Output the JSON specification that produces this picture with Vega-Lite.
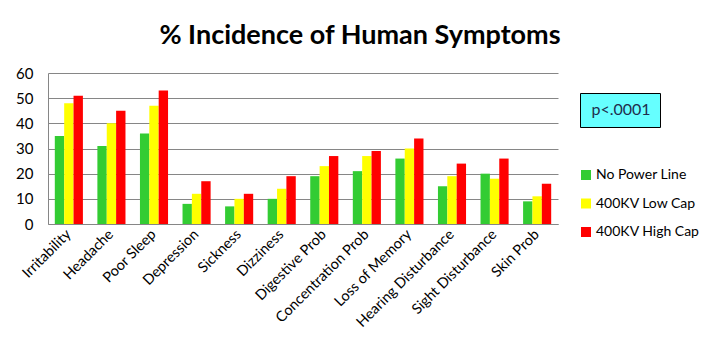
{
  "$schema": "https://vega.github.io/schema/vega-lite/v6.json",
  "width": 510,
  "height": 151,
  "autosize": {"type": "none"},
  "padding": {"left": 48, "top": 73, "right": 166, "bottom": 135},
  "background": "white",
  "title": {
    "text": "% Incidence of Human Symptoms",
    "font": "Lato",
    "fontSize": 27,
    "fontWeight": "bold",
    "color": "black",
    "anchor": "middle",
    "dx": 57,
    "offset": 16
  },
  "config": {
    "view": {"stroke": null},
    "font": "Lato"
  },
  "layer": [
    {
      "data": {
        "values": [
          {"symptom": "Irritability", "group": "No Power Line", "value": 35},
          {"symptom": "Irritability", "group": "400KV Low Cap", "value": 48},
          {"symptom": "Irritability", "group": "400KV High Cap", "value": 51},
          {"symptom": "Headache", "group": "No Power Line", "value": 31},
          {"symptom": "Headache", "group": "400KV Low Cap", "value": 40},
          {"symptom": "Headache", "group": "400KV High Cap", "value": 45},
          {"symptom": "Poor Sleep", "group": "No Power Line", "value": 36},
          {"symptom": "Poor Sleep", "group": "400KV Low Cap", "value": 47},
          {"symptom": "Poor Sleep", "group": "400KV High Cap", "value": 53},
          {"symptom": "Depression", "group": "No Power Line", "value": 8},
          {"symptom": "Depression", "group": "400KV Low Cap", "value": 12},
          {"symptom": "Depression", "group": "400KV High Cap", "value": 17},
          {"symptom": "Sickness", "group": "No Power Line", "value": 7},
          {"symptom": "Sickness", "group": "400KV Low Cap", "value": 10},
          {"symptom": "Sickness", "group": "400KV High Cap", "value": 12},
          {"symptom": "Dizziness", "group": "No Power Line", "value": 10},
          {"symptom": "Dizziness", "group": "400KV Low Cap", "value": 14},
          {"symptom": "Dizziness", "group": "400KV High Cap", "value": 19},
          {"symptom": "Digestive Prob", "group": "No Power Line", "value": 19},
          {"symptom": "Digestive Prob", "group": "400KV Low Cap", "value": 23},
          {"symptom": "Digestive Prob", "group": "400KV High Cap", "value": 27},
          {"symptom": "Concentration Prob", "group": "No Power Line", "value": 21},
          {"symptom": "Concentration Prob", "group": "400KV Low Cap", "value": 27},
          {"symptom": "Concentration Prob", "group": "400KV High Cap", "value": 29},
          {"symptom": "Loss of Memory", "group": "No Power Line", "value": 26},
          {"symptom": "Loss of Memory", "group": "400KV Low Cap", "value": 30},
          {"symptom": "Loss of Memory", "group": "400KV High Cap", "value": 34},
          {"symptom": "Hearing Disturbance", "group": "No Power Line", "value": 15},
          {"symptom": "Hearing Disturbance", "group": "400KV Low Cap", "value": 19},
          {"symptom": "Hearing Disturbance", "group": "400KV High Cap", "value": 24},
          {"symptom": "Sight Disturbance", "group": "No Power Line", "value": 20},
          {"symptom": "Sight Disturbance", "group": "400KV Low Cap", "value": 18},
          {"symptom": "Sight Disturbance", "group": "400KV High Cap", "value": 26},
          {"symptom": "Skin Prob", "group": "No Power Line", "value": 9},
          {"symptom": "Skin Prob", "group": "400KV Low Cap", "value": 11},
          {"symptom": "Skin Prob", "group": "400KV High Cap", "value": 16}
        ]
      },
      "mark": {"type": "bar"},
      "encoding": {
        "x": {
          "field": "symptom",
          "type": "nominal",
          "sort": null,
          "scale": {"paddingInner": 0.34, "paddingOuter": 0.16},
          "axis": {
            "title": null,
            "labelAngle": -45,
            "labelAlign": "right",
            "labelBaseline": "middle",
            "labelFontSize": 14.5,
            "labelColor": "black",
            "labelPadding": 8,
            "ticks": false,
            "domainColor": "#868686",
            "domainWidth": 1,
            "grid": false
          }
        },
        "xOffset": {
          "field": "group",
          "type": "nominal",
          "sort": ["No Power Line", "400KV Low Cap", "400KV High Cap"]
        },
        "y": {
          "field": "value",
          "type": "quantitative",
          "scale": {"domain": [0, 60], "nice": false},
          "axis": {
            "title": null,
            "values": [0, 10, 20, 30, 40, 50, 60],
            "labelFontSize": 15,
            "labelColor": "black",
            "labelPadding": 15,
            "ticks": false,
            "domainColor": "#868686",
            "gridColor": "#868686",
            "gridWidth": 1
          }
        },
        "color": {
          "field": "group",
          "type": "nominal",
          "sort": ["No Power Line", "400KV Low Cap", "400KV High Cap"],
          "scale": {
            "domain": ["No Power Line", "400KV Low Cap", "400KV High Cap"],
            "range": ["#33cc33", "#ffff00", "#ff0000"]
          },
          "legend": {
            "title": null,
            "orient": "none",
            "legendX": 531,
            "legendY": 95,
            "padding": 0,
            "symbolType": "square",
            "symbolSize": 100,
            "symbolStrokeWidth": 0,
            "labelFontSize": 14,
            "labelColor": "black",
            "labelOffset": 3,
            "rowPadding": 14.5
          }
        }
      }
    },
    {
      "data": {"values": [{"note": "p<.0001"}]},
      "mark": {"type": "point", "opacity": 0, "size": 0},
      "encoding": {
        "shape": {
          "field": "note",
          "type": "nominal",
          "legend": {
            "title": null,
            "orient": "none",
            "legendX": 532,
            "legendY": 20,
            "padding": 9,
            "fillColor": "#66ffff",
            "strokeColor": "black",
            "symbolSize": 0,
            "symbolOpacity": 0,
            "symbolStrokeWidth": 0,
            "labelFontSize": 16,
            "labelColor": "#1f2d4d",
            "labelOffset": -13.5
          }
        }
      }
    }
  ]
}
